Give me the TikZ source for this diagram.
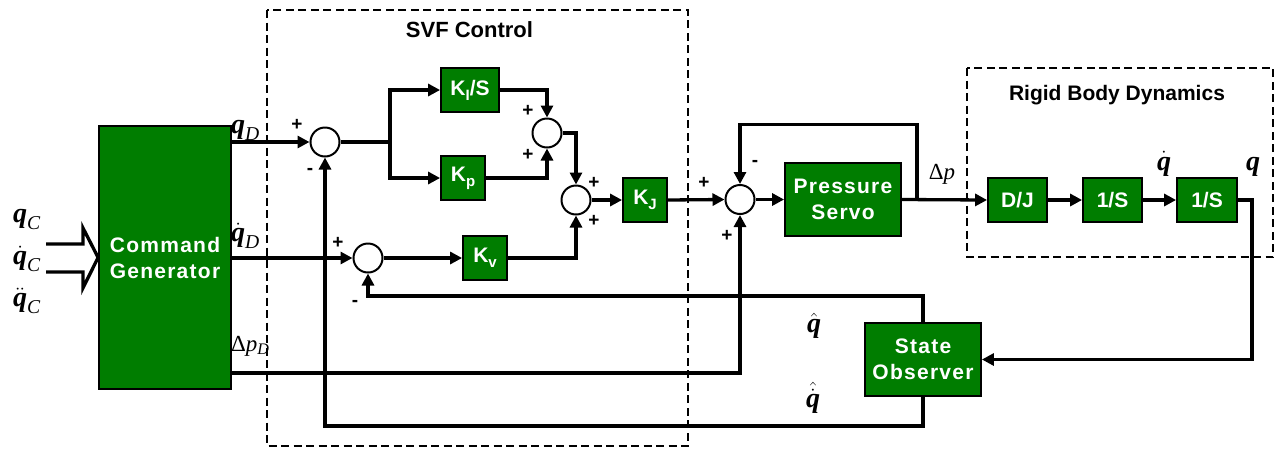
\documentclass[tikz,border=0pt]{standalone}
\usepackage{amsmath}
\usepackage{fontspec}
\setmainfont{Liberation Sans}
\newfontfamily\tms{Liberation Serif}
\newfontfamily\spaced[LetterSpace=6]{Liberation Sans}
\definecolor{verde}{HTML}{007D00}
\usetikzlibrary{positioning,arrows.meta}
\newcommand{\vq}{\text{\tms\bfseries\itshape q}}
\newcommand{\subi}[1]{\text{\tms\itshape #1}}
\newcommand{\ksub}[1]{\raisebox{-5pt}{\fontsize{15}{15}\selectfont #1}}

\begin{document}
\begin{tikzpicture}[
  x=1pt, y=-1pt,
  bloque/.style={rectangle, draw=black, line width=1.8pt, fill=verde, text=white, inner sep=0pt, align=center, font=\fontsize{21}{26}\selectfont\bfseries},
  bloqueancho/.style={bloque, font=\fontsize{21}{26}\selectfont\spaced\bfseries},
  suma/.style={circle, draw=black, line width=2pt, fill=white, minimum size=29pt, inner sep=0pt},
  signo/.style={font=\fontsize{19}{19}\selectfont\bfseries, inner sep=0pt},
  etiqueta/.style={font=\fontsize{28}{30}\selectfont, inner sep=0pt},
  delta/.style={font=\fontsize{23}{26}\selectfont, inner sep=0pt},
  titulo/.style={font=\fontsize{21}{24}\selectfont\bfseries, inner sep=0pt},
  marco/.style={draw=black, line width=1.6pt, dash pattern=on 8pt off 4.5pt},
  cable/.style={line width=3.3pt},
  flecha/.style={cable, -{Triangle[length=12pt,width=12pt]}}
]
\useasboundingbox (0,0) rectangle (1277,448);
% dashed frames
\draw[marco] (267,10) rectangle (688,446);
\draw[marco] (967,68) rectangle (1273,257);
\node[titulo, font=\fontsize{22}{24}\selectfont\bfseries] (svftit) at (469.5,30) {SVF Control};
\node[titulo] (rbdtit) at (1117,95) {Rigid Body Dynamics};
% blocks
\node[bloqueancho, minimum width=132pt, minimum height=263pt] (cmdgen) at (165,257.5) {Command\\Generator};
\node[suma] (sumA) at (325,142) {};
\node[suma] (sumB) at (368,258) {};
\node[suma] (sumC) at (547,133) {};
\node[suma] (sumD) at (576,200) {};
\node[suma] (sumE) at (740,199.5) {};
\node[bloque, minimum width=58pt, minimum height=44pt] (kis) at (470,90) {K\ksub{I}/S};
\node[bloque, minimum width=44pt, minimum height=44pt] (kp) at (463,178) {K\ksub{p}};
\node[bloque, minimum width=44pt, minimum height=44pt] (kv) at (485,258) {K\ksub{v}};
\node[bloque, minimum width=44pt, minimum height=44pt] (kj) at (645,200) {K\ksub{J}};
\node[bloqueancho, minimum width=116pt, minimum height=73pt] (servo) at (843,199.5) {Pressure\\Servo};
\node[bloque, minimum width=59pt, minimum height=44pt] (dj) at (1017.5,200) {D/J};
\node[bloque, minimum width=59pt, minimum height=44pt] (intA) at (1112.5,200) {1/S};
\node[bloque, minimum width=60pt, minimum height=44pt] (intB) at (1207,200) {1/S};
\node[bloqueancho, minimum width=116pt, minimum height=73pt] (observer) at (923,359.5) {State\\Observer};
\coordinate (split) at (390,142);
\coordinate (dpcol) at (0,373);
\coordinate[right=15pt of servo.east] (tap);
% input arrow
\draw[cable, line join=miter] (46,244) -- (83,244) -- (83,228) -- (cmdgen.west) -- (83,288) -- (83,272) -- (46,272);
% connectors
\draw[flecha] (cmdgen.east |- sumA) -- (sumA.west);
\draw[flecha] (cmdgen.east |- sumB) -- (sumB.west);
\draw[flecha] (cmdgen.east |- dpcol) -| (sumE.south);
\draw[cable] (sumA.east) -- (split);
\draw[flecha] (split) |- (kis.west);
\draw[flecha] (split) |- (kp.west);
\draw[flecha] (kis.east) -| (sumC.north);
\draw[flecha] (kp.east) -| (sumC.south);
\draw[flecha] (sumC.east) -| (sumD.north);
\draw[flecha] (sumB.east) -- (kv.west);
\draw[flecha] (kv.east) -| (sumD.south);
\draw[flecha] (sumD.east) -- (kj.west);
\draw[flecha] (kj.east) -- (sumE.west);
\draw[flecha] (sumE.east) -- (servo.west);
\draw[flecha] (servo.east) -- (dj.west);
\draw[flecha] (tap) -- ++(0,-75) -| (sumE.north);
\draw[flecha] (dj.east) -- (intA.west);
\draw[flecha] (intA.east) -- (intB.west);
\draw[flecha] (intB.east) -- ++(14,0) |- (observer.east);
\draw[flecha] (observer.north) -- ++(0,-26) -| (sumB.south);
\draw[flecha] (observer.south) -- ++(0,29) -| (sumA.south);
% signs
\node[signo] (sgnA1) at (297,125) {+};
\node[signo] (sgnA2) at (310,171) {-};
\node[signo] (sgnB1) at (338,243) {+};
\node[signo] (sgnB2) at (355,303) {-};
\node[signo] (sgnC1) at (528,111) {+};
\node[signo] (sgnC2) at (528,155) {+};
\node[signo] (sgnD1) at (594,183) {+};
\node[signo] (sgnD2) at (594,221) {+};
\node[signo] (sgnE1) at (704,183) {+};
\node[signo] (sgnE2) at (755,163) {-};
\node[signo] (sgnE3) at (727,236) {+};
% signal labels
\node[etiqueta, anchor=west] (lblqc) at (13,219) {$\vq_{\subi{C}}$};
\node[etiqueta, anchor=west] (lblqcd) at (13,259) {$\dot{\vq}_{\subi{C}}$};
\node[etiqueta, anchor=west] (lblqcdd) at (13,301) {$\ddot{\vq}_{\subi{C}}$};
\node[etiqueta, anchor=west] (lblqd) at (231,130) {$\vq_{\subi{D}}$};
\node[etiqueta, anchor=west] (lblqdd) at (231,236) {$\dot{\vq}_{\subi{D}}$};
\node[delta, anchor=west] (lbldpd) at (231,346) {{\tms Δ\itshape p}$_{\subi{D}}$};
\node[delta] (lbldp) at (942,174) {{\tms Δ\itshape p}};
\node[etiqueta] (lblvel) at (1164,164) {$\dot{\vq}$};
\node[etiqueta] (lblpos) at (1253,167) {$\vq$};
\node[etiqueta] (lblqh) at (814,326) {$\hat{\vq}$};
\node[etiqueta] (lblqhd) at (813,398) {$\hat{\dot{\vq}}$};
\end{tikzpicture}
\end{document}
